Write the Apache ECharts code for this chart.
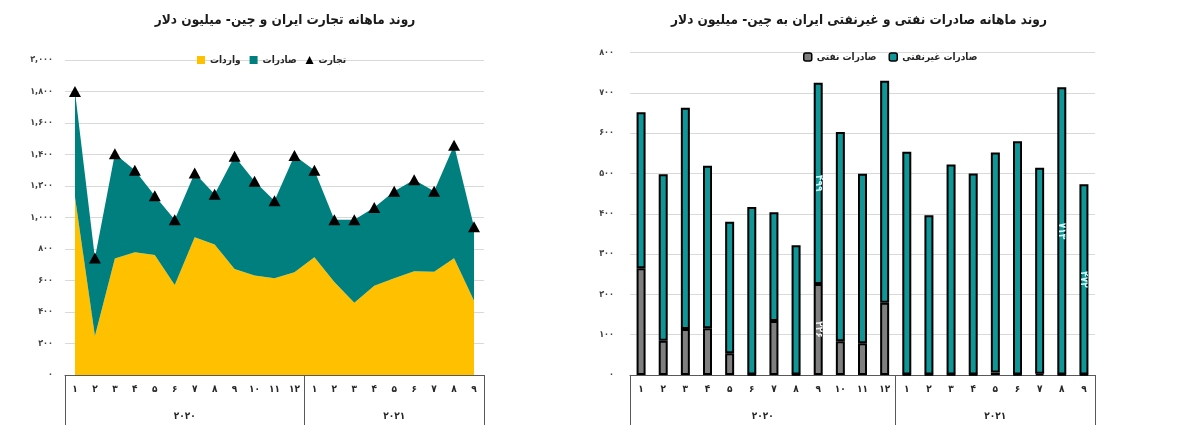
<!DOCTYPE html>
<html>
<head>
<meta charset="utf-8">
<script src="https://cdn.jsdelivr.net/npm/echarts@6/dist/echarts.min.js"></script>
<style>
html,body{margin:0;padding:0;background:#fff;}
#c{width:1200px;height:448px;}
</style>
</head>
<body>
<div id="c"></div>
<script>
// ---- data ----
const monthLabels = ['۱','۲','۳','۴','۵','۶','۷','۸','۹','۱۰','۱۱','۱۲','۱','۲','۳','۴','۵','۶','۷','۸','۹'];
const years = ['۲۰۲۰','۲۰۲۱'];
const monthsInYear = [12, 9];

// Left chart: Iran-China monthly trade (million USD)
const imports = [1130, 248, 739, 780, 762, 571, 875, 828, 673, 631, 614, 652, 748, 590, 459, 567, 614, 659, 656, 741, 471];
const exportsTotal = [670, 495, 665, 520, 376, 414, 408, 319, 716, 599, 493, 741, 552, 395, 526, 497, 552, 581, 510, 718, 470];
const trade = [1800, 743, 1404, 1300, 1138, 985, 1283, 1147, 1389, 1230, 1107, 1393, 1300, 985, 985, 1064, 1166, 1240, 1166, 1459, 941];

// Right chart: oil and non-oil exports to China (million USD)
const oilExports = [265, 85, 114, 116, 54, 1, 134, 1, 226, 84, 79, 179, 1, 1, 1, 1, 6, 1, 3, 1, 1];
const nonOilExports = [387, 413, 549, 403, 326, 416, 270, 321, 499, 519, 420, 551, 553, 395, 521, 499, 546, 579, 511, 713, 472];
const oilLabelIdx = [8];
const nonOilLabelIdx = [8, 19, 20];

const titles = ['روند ماهانه تجارت ایران و چین- میلیون دلار', 'روند ماهانه صادرات نفتی و غیرنفتی ایران به چین- میلیون دلار'];
const names = {imp:'واردات', exp:'صادرات', trade:'تجارت', oil:'صادرات نفتی', nonOil:'صادرات غیرنفتی'};

const faDigits = ['۰','۱','۲','۳','۴','۵','۶','۷','۸','۹'];
function toFa(v, group){
  let s = group ? Number(v).toLocaleString('en-US') : String(v);
  return s.replace(/[0-9]/g, d => faDigits[+d]);
}

// year axis built with half-month slots
const totalMonths = monthsInYear.reduce((a,b)=>a+b,0);
const yearSlots = new Array(totalMonths*2+1).fill('');
const yearBounds = [0];
let acc = 0;
monthsInYear.forEach((m,i)=>{
  yearSlots[acc*2 + m] = years[i];
  acc += m;
  yearBounds.push(acc*2);
});

const FONT = '"DejaVu Sans Condensed", "DejaVu Sans", sans-serif';
const txt = '#262626';
const gridColor = '#d9d9d9';
const axisColor = '#595959';

function monthAxis(gi){
  return {type:'category', gridIndex:gi, position:'bottom', data:monthLabels, boundaryGap:true,
    axisLine:{show:true, lineStyle:{color:axisColor, width:1}},
    axisTick:{show:false},
    axisLabel:{interval:0, margin:9, fontFamily:FONT, fontSize:10, fontWeight:'bold', color:txt}};
}
function yearAxis(gi){
  return {type:'category', gridIndex:gi, position:'bottom', data:yearSlots, boundaryGap:false,
    axisLine:{show:false},
    axisTick:{show:true, length:50, interval:(i)=>yearBounds.indexOf(i)>=0, lineStyle:{color:axisColor, width:1}},
    axisLabel:{interval:0, margin:36, fontFamily:FONT, fontSize:10, fontWeight:'bold', color:txt}};
}

const nonOilData = nonOilExports.map((v,i)=> nonOilLabelIdx.includes(i) ?
  {value:v, label:{show:true, color:'#c8ffff'}} : v);
const oilData = oilExports.map((v,i)=> oilLabelIdx.includes(i) ?
  {value:v, label:{show:true, color:'#f2f2f2'}} : v);

const chart = echarts.init(document.getElementById('c'));
chart.setOption({
  animation:false,
  backgroundColor:'#fff',
  title:[
    {text:titles[0], left:280, top:8, textAlign:'center', textStyle:{fontFamily:FONT, fontSize:13.5, fontWeight:'bold', color:'#1a1a1a'}},
    {text:titles[1], left:854, top:8, textAlign:'center', textStyle:{fontFamily:FONT, fontSize:13.5, fontWeight:'bold', color:'#1a1a1a'}}
  ],
  legend:[
    {data:[{name:names.imp, icon:'rect'}, {name:names.exp, icon:'rect'}, {name:names.trade, icon:'triangle'}], left:192, top:50,
      itemWidth:8, itemHeight:8, itemGap:9,
      textStyle:{fontFamily:FONT, fontSize:10, fontWeight:'bold', color:txt}},
    {data:[names.oil, names.nonOil], left:798, top:47,
      itemWidth:8, itemHeight:8, itemGap:12,
      itemStyle:{borderColor:'#000', borderWidth:1.5},
      textStyle:{fontFamily:FONT, fontSize:10, fontWeight:'bold', color:txt}}
  ],
  grid:[
    {left:65, width:419, top:60, height:315},
    {left:630, width:465, top:52.5, height:322.5}
  ],
  xAxis:[monthAxis(0), yearAxis(0), monthAxis(1), yearAxis(1)],
  yAxis:[
    {type:'value', gridIndex:0, min:0, max:2000, interval:200,
      axisLine:{show:false}, axisTick:{show:false},
      splitLine:{lineStyle:{color:gridColor, width:1}},
      axisLabel:{margin:12, fontFamily:FONT, fontSize:9, fontWeight:'bold', color:'#404040', formatter:v=>toFa(v,true)}},
    {type:'value', gridIndex:1, min:0, max:800, interval:100,
      axisLine:{show:false}, axisTick:{show:false},
      splitLine:{lineStyle:{color:gridColor, width:1}},
      axisLabel:{margin:16, fontFamily:FONT, fontSize:9, fontWeight:'bold', color:'#404040', formatter:v=>toFa(v,false)}}
  ],
  series:[
    {name:names.imp, type:'line', xAxisIndex:0, yAxisIndex:0, stack:'trade', data:imports,
      symbol:'none', lineStyle:{width:0}, areaStyle:{color:'#FFC000', opacity:1}, itemStyle:{color:'#FFC000'}},
    {name:names.exp, type:'line', xAxisIndex:0, yAxisIndex:0, stack:'trade', data:exportsTotal,
      symbol:'none', lineStyle:{width:0}, areaStyle:{color:'#007F7F', opacity:1}, itemStyle:{color:'#007F7F'}},
    {name:names.trade, type:'scatter', xAxisIndex:0, yAxisIndex:0, data:trade,
      symbol:'triangle', symbolSize:[12,11], itemStyle:{color:'#000', opacity:1}, z:5},
    {name:names.oil, type:'bar', xAxisIndex:2, yAxisIndex:1, stack:'exp', data:oilData, barWidth:9,
      itemStyle:{color:'#7F7F7F', borderColor:'#000', borderWidth:2},
      label:{show:false, position:'inside', rotate:-90, fontFamily:FONT, fontSize:10, fontWeight:'bold', formatter:p=>toFa(p.value,false)}},
    {name:names.nonOil, type:'bar', xAxisIndex:2, yAxisIndex:1, stack:'exp', data:nonOilData, barWidth:9,
      itemStyle:{color:'#0F9696', borderColor:'#000', borderWidth:2},
      label:{show:false, position:'inside', rotate:-90, fontFamily:FONT, fontSize:10, fontWeight:'bold', formatter:p=>toFa(p.value,false)}}
  ]
});
</script>
</body>
</html>
